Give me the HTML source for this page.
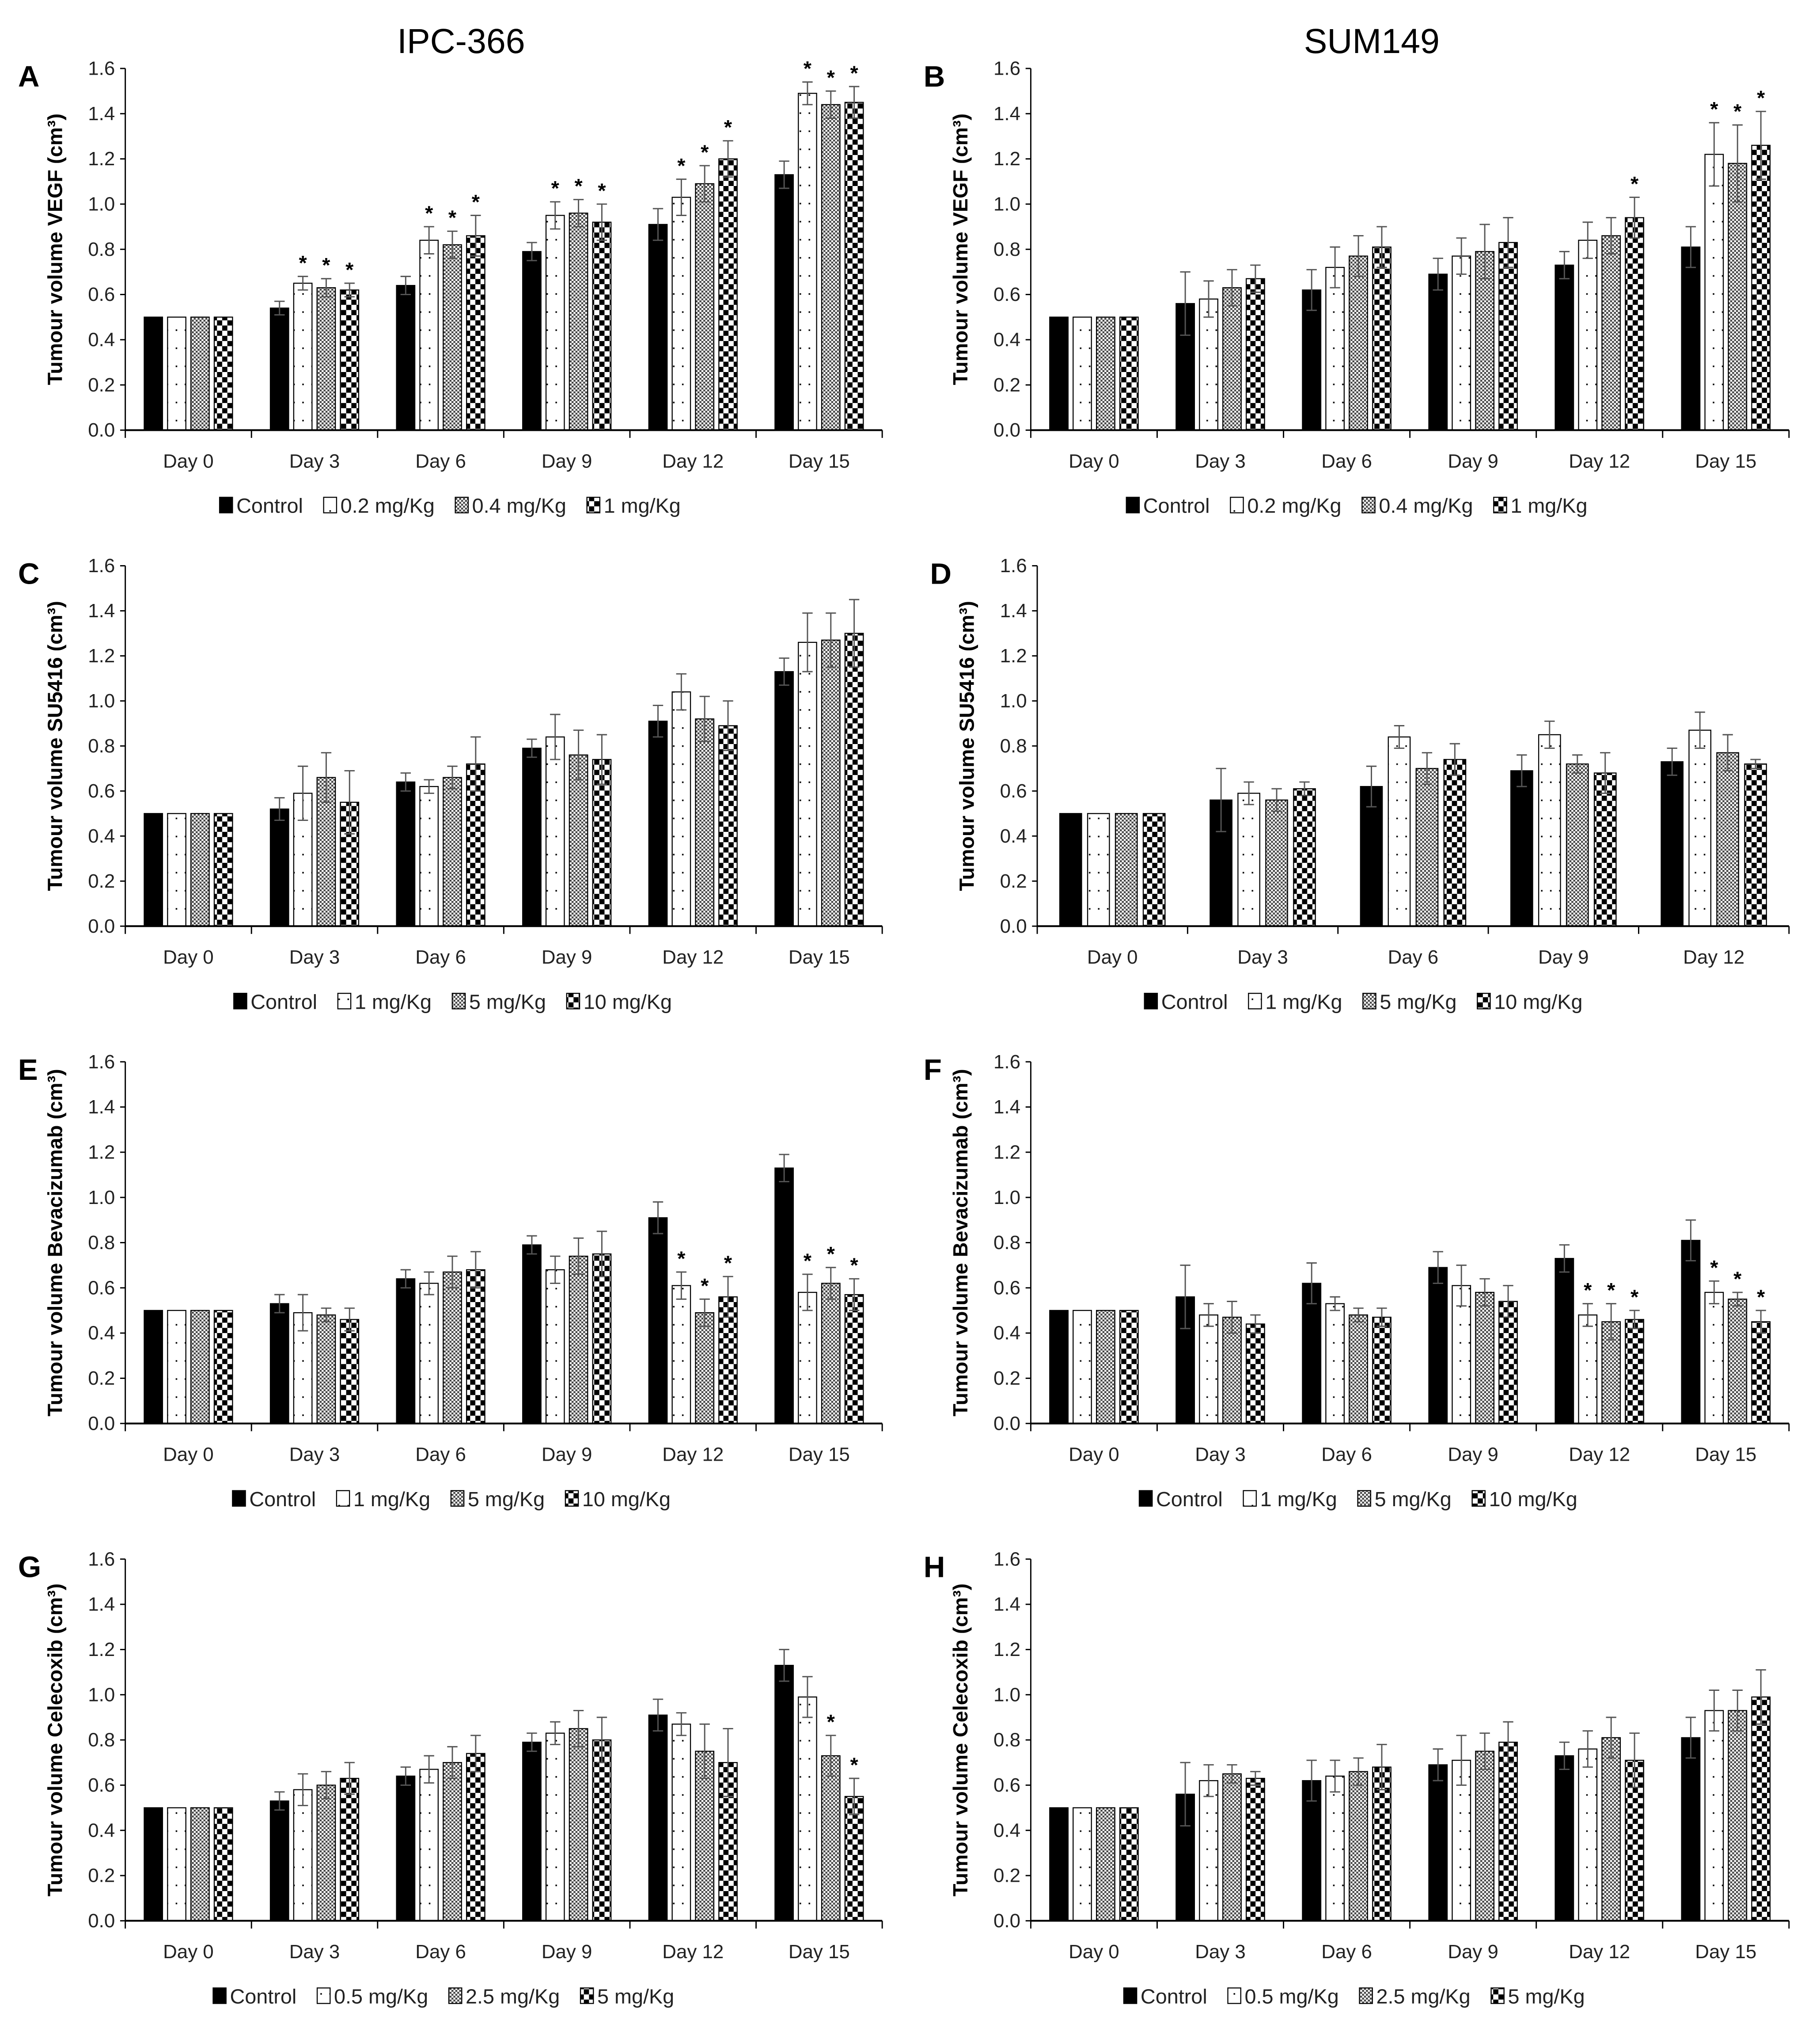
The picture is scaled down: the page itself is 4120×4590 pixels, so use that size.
<!DOCTYPE html>
<html><head><meta charset="utf-8"><style>
html,body{margin:0;padding:0;background:#fff;}
svg{display:block;}
text{font-family:"Liberation Sans Narrow","Liberation Sans",sans-serif;}
</style></head><body>
<svg id="fig" xmlns="http://www.w3.org/2000/svg" width="4120" height="4590" viewBox="0 0 1409 1570" preserveAspectRatio="none">
<defs>
<pattern id="p-dots" patternUnits="userSpaceOnUse" width="7" height="14"><rect width="7" height="14" fill="#fff"/><rect x="3" y="3" width="1.2" height="1.2" fill="#000"/></pattern>
<pattern id="p-check" patternUnits="userSpaceOnUse" width="3" height="3"><rect width="3" height="3" fill="#fff"/><rect width="1.5" height="1.5" fill="#444"/><rect x="1.5" y="1.5" width="1.5" height="1.5" fill="#444"/></pattern>
<pattern id="p-blocks" patternUnits="userSpaceOnUse" width="8" height="8"><rect width="8" height="8" fill="#fff"/><rect width="4" height="4" fill="#000"/><rect x="4" y="4" width="4" height="4" fill="#000"/></pattern>
</defs>
<g id="root"></g>
</svg>
<script>
const days6 = ["Day 0","Day 3","Day 6","Day 9","Day 12","Day 15"];
const days5 = ["Day 0","Day 3","Day 6","Day 9","Day 12"];
const yTicks = [0,0.2,0.4,0.6,0.8,1.0,1.2,1.4,1.6];

const aMeans = [[.5,.54,.64,.79,.91,1.13],[.5,.65,.84,.95,1.03,1.49],[.5,.63,.82,.96,1.09,1.44],[.5,.62,.86,.92,1.20,1.45]];
const aErrs  = [[0,.03,.04,.04,.07,.06],[0,.03,.06,.06,.08,.05],[0,.04,.06,.06,.08,.06],[0,.03,.09,.08,.08,.07]];
const aSig   = [[0,0,0,0,0,0],[0,1,1,1,1,1],[0,1,1,1,1,1],[0,1,1,1,1,1]];

const bMeans = [[.5,.56,.62,.69,.73,.81],[.5,.58,.72,.77,.84,1.22],[.5,.63,.77,.79,.86,1.18],[.5,.67,.81,.83,.94,1.26]];
const bErrs  = [[0,.14,.09,.07,.06,.09],[0,.08,.09,.08,.08,.14],[0,.08,.09,.12,.08,.17],[0,.06,.09,.11,.09,.15]];
const bSig   = [[0,0,0,0,0,0],[0,0,0,0,0,1],[0,0,0,0,0,1],[0,0,0,0,1,1]];

const cMeans = [[.5,.52,.64,.79,.91,1.13],[.5,.59,.62,.84,1.04,1.26],[.5,.66,.66,.76,.92,1.27],[.5,.55,.72,.74,.89,1.30]];
const cErrs  = [[0,.05,.04,.04,.07,.06],[0,.12,.03,.10,.08,.13],[0,.11,.05,.11,.10,.12],[0,.14,.12,.11,.11,.15]];
const cSig   = [[0,0,0,0,0,0],[0,0,0,0,0,0],[0,0,0,0,0,0],[0,0,0,0,0,0]];

const dMeans = [[.5,.56,.62,.69,.73],[.5,.59,.84,.85,.87],[.5,.56,.70,.72,.77],[.5,.61,.74,.68,.72]];
const dErrs  = [[0,.14,.09,.07,.06],[0,.05,.05,.06,.08],[0,.05,.07,.04,.08],[0,.03,.07,.09,.02]];
const dSig   = [[0,0,0,0,0],[0,0,0,0,0],[0,0,0,0,0],[0,0,0,0,0]];

const eMeans = [[.5,.53,.64,.79,.91,1.13],[.5,.49,.62,.68,.61,.58],[.5,.48,.67,.74,.49,.62],[.5,.46,.68,.75,.56,.57]];
const eErrs  = [[0,.04,.04,.04,.07,.06],[0,.08,.05,.06,.06,.08],[0,.03,.07,.08,.06,.07],[0,.05,.08,.10,.09,.07]];
const eSig   = [[0,0,0,0,0,0],[0,0,0,0,1,1],[0,0,0,0,1,1],[0,0,0,0,1,1]];

const fMeans = [[.5,.56,.62,.69,.73,.81],[.5,.48,.53,.61,.48,.58],[.5,.47,.48,.58,.45,.55],[.5,.44,.47,.54,.46,.45]];
const fErrs  = [[0,.14,.09,.07,.06,.09],[0,.05,.03,.09,.05,.05],[0,.07,.03,.06,.08,.03],[0,.04,.04,.07,.04,.05]];
const fSig   = [[0,0,0,0,0,0],[0,0,0,0,1,1],[0,0,0,0,1,1],[0,0,0,0,1,1]];

const gMeans = [[.5,.53,.64,.79,.91,1.13],[.5,.58,.67,.83,.87,.99],[.5,.60,.70,.85,.75,.73],[.5,.63,.74,.80,.70,.55]];
const gErrs  = [[0,.04,.04,.04,.07,.07],[0,.07,.06,.05,.05,.09],[0,.06,.07,.08,.12,.09],[0,.07,.08,.10,.15,.08]];
const gSig   = [[0,0,0,0,0,0],[0,0,0,0,0,0],[0,0,0,0,0,1],[0,0,0,0,0,1]];

const hMeans = [[.5,.56,.62,.69,.73,.81],[.5,.62,.64,.71,.76,.93],[.5,.65,.66,.75,.81,.93],[.5,.63,.68,.79,.71,.99]];
const hErrs  = [[0,.14,.09,.07,.06,.09],[0,.07,.07,.11,.08,.09],[0,.04,.06,.08,.09,.09],[0,.03,.10,.09,.12,.12]];
const hSig   = [[0,0,0,0,0,0],[0,0,0,0,0,0],[0,0,0,0,0,0],[0,0,0,0,0,0]];

const legVEGF = ["Control","0.2 mg/Kg","0.4 mg/Kg","1 mg/Kg"];
const legSU = ["Control","1 mg/Kg","5 mg/Kg","10 mg/Kg"];
const legBev = ["Control","1 mg/Kg","5 mg/Kg","10 mg/Kg"];
const legCel = ["Control","0.5 mg/Kg","2.5 mg/Kg","5 mg/Kg"];

const fills = ["#000","url(#p-dots)","url(#p-check)","url(#p-blocks)"];
const NS = "http://www.w3.org/2000/svg";
const root = document.getElementById("root");

function mk(tag, attrs, parent){
  const e = document.createElementNS(NS, tag);
  for (const k in attrs) e.setAttribute(k, attrs[k]);
  parent.appendChild(e);
  return e;
}

const panels = [
 {id:"a",letter:"A",x0:97,x1:683,y0:333,y1:53,ytitle:"Tumour volume VEGF (cm³)",cats:days6,m:aMeans,e:aErrs,s:aSig,leg:legVEGF,legX:170},
 {id:"b",letter:"B",x0:798,x1:1385,y0:333,y1:53,ytitle:"Tumour volume VEGF (cm³)",cats:days6,m:bMeans,e:bErrs,s:bSig,leg:legVEGF,legX:872},
 {id:"c",letter:"C",x0:97,x1:683,y0:717,y1:438,ytitle:"Tumour volume SU5416 (cm³)",cats:days6,m:cMeans,e:cErrs,s:cSig,leg:legSU,legX:181},
 {id:"d",letter:"D",x0:803,x1:1385,y0:717,y1:438,ytitle:"Tumour volume SU5416 (cm³)",cats:days5,m:dMeans,e:dErrs,s:dSig,leg:legSU,legX:886},
 {id:"e",letter:"E",x0:97,x1:683,y0:1102,y1:822,ytitle:"Tumour volume Bevacizumab (cm³)",cats:days6,m:eMeans,e:eErrs,s:eSig,leg:legBev,legX:180},
 {id:"f",letter:"F",x0:798,x1:1385,y0:1102,y1:822,ytitle:"Tumour volume Bevacizumab (cm³)",cats:days6,m:fMeans,e:fErrs,s:fSig,leg:legBev,legX:882},
 {id:"g",letter:"G",x0:97,x1:683,y0:1487,y1:1207,ytitle:"Tumour volume Celecoxib (cm³)",cats:days6,m:gMeans,e:gErrs,s:gSig,leg:legCel,legX:165},
 {id:"h",letter:"H",x0:798,x1:1385,y0:1487,y1:1207,ytitle:"Tumour volume Celecoxib (cm³)",cats:days6,m:hMeans,e:hErrs,s:hSig,leg:legCel,legX:870}
];

let t = mk("text",{x:357,y:41,"text-anchor":"middle","font-size":"27",fill:"#000"},root);
t.textContent = "IPC-366";


t = mk("text",{x:1062,y:41,"text-anchor":"middle","font-size":"27",fill:"#000"},root);
t.textContent = "SUM149";



panels.forEach(p=>{
  const g = mk("g",{},root);
  
  
  const yS = v => p.y0 + (p.y1 - p.y0) * v / 1.6;
  const n = p.cats.length;
  const cw = (p.x1 - p.x0) / n;
  const bw = cw * 0.145, gap = cw * 0.04;
  const grpW = 4*bw + 3*gap;
  let L = mk("text",{x:p.x0-83,y:p.y1+14,"font-size":"23","font-weight":"bold","font-family":"Liberation Sans, sans-serif"},g);
  L.textContent = p.letter;
  
  
  const cy = (p.y0+p.y1)/2;
  let yt = mk("text",{x:0,y:0,transform:`translate(${p.x0-49},${cy}) rotate(-90)`,"text-anchor":"middle","font-size":"16","font-weight":"bold","font-family":"Liberation Sans, sans-serif"},g);
  yt.textContent = p.ytitle;
  
  
  yTicks.forEach(v=>{
    const y = yS(v);
    let tk = mk("line",{x1:p.x0-4,x2:p.x0,y1:y,y2:y,stroke:"#000","stroke-width":1},g);
    
    
    let tl = mk("text",{x:p.x0-8,y:y+5,"text-anchor":"end","font-size":"15",fill:"#222"},g);
    tl.textContent = v.toFixed(1);
    
    
  });
  for (let s=0;s<4;s++){
    for (let i=0;i<n;i++){
      const v = p.m[s][i];
      const x = p.x0 + i*cw + (cw-grpW)/2 + s*(bw+gap);
      const y = yS(v);
      let r = mk("rect",{x:x,y:y,width:bw,height:p.y0-y,fill:fills[s],stroke:"#000","stroke-width":0.8},g);
      
      
      const er = p.e[s][i];
      if (er > 0){
        const cx = x + bw/2;
        let eb = mk("path",{d:`M${cx},${yS(v-er)}V${yS(v+er)}M${cx-4},${yS(v+er)}H${cx+4}M${cx-4},${yS(v-er)}H${cx+4}`,stroke:"#555","stroke-width":1,fill:"none"},g);
        
        
      }
      if (p.s[s][i]){
        let st = mk("text",{x:x+bw/2,y:yS(v+er)-5,"text-anchor":"middle","font-size":"16","font-weight":"bold","font-family":"Liberation Sans, sans-serif"},g);
        st.textContent = "*";
        
        
      }
    }
  }
  let ax = mk("line",{x1:p.x0,x2:p.x1,y1:p.y0,y2:p.y0,stroke:"#000","stroke-width":1.4},g);
  
  
  let ay = mk("line",{x1:p.x0,x2:p.x0,y1:p.y0,y2:p.y1,stroke:"#000","stroke-width":1},g);
  
  
  for (let i=0;i<=n;i++){
    const x = p.x0 + i*cw;
    let tk = mk("line",{x1:x,x2:x,y1:p.y0,y2:p.y0+6,stroke:"#000","stroke-width":1},g);
    
    
    if (i<n){
      let cl = mk("text",{x:x+cw/2,y:p.y0+29,"text-anchor":"middle","font-size":"15",fill:"#222"},g);
      cl.textContent = p.cats[i];
      
      
    }
  }
  const lg = mk("g",{},g);
  
  
  let lx = p.legX;
  const ly = p.y0 + 64;
  p.leg.forEach((lab,s)=>{
    let sw = mk("rect",{x:lx,y:ly-12,width:10,height:12,fill:fills[s],stroke:"#000","stroke-width":0.8},lg);
    
    
    let lt = mk("text",{x:lx+13,y:ly,"font-size":"16",fill:"#222"},lg);
    lt.textContent = lab;
    
    
    lx += 13 + lt.getComputedTextLength() + 16;
  });
});
</script>
</body></html>
